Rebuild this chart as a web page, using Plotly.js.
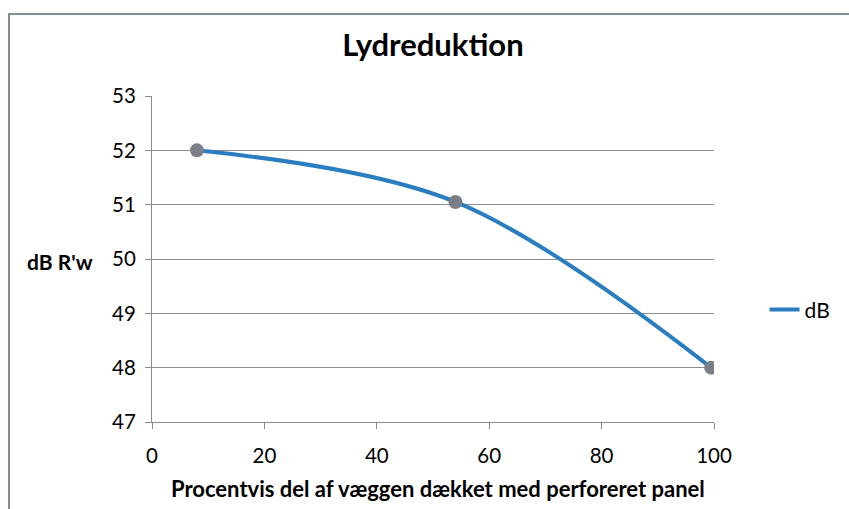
<!DOCTYPE html>
<html>
<head>
<meta charset="utf-8">
<script src="https://cdn.plot.ly/plotly-3.0.1.min.js"></script>
<style>html,body{margin:0;padding:0;background:#fff;}#chart{width:849px;height:509px;}</style>
</head>
<body>
<div id="chart"></div>
<script>
const seriesName = "dB";
const xValues = [8, 54, 99.5];
const yValues = [52, 51.05, 48];
const xTicks = [0, 20, 40, 60, 80, 100];
const yTicks = [47, 48, 49, 50, 51, 52, 53];
const titleText = "Lydreduktion";
const xTitle = "Procentvis del af væggen dækket med perforeret panel";
const yTitle = "dB R'w";

const FONT = "Lato, Noto Sans, sans-serif";
const LINE_COLOR = "#2A7DC0";

const trace = {
  x: xValues, y: yValues, name: seriesName, type: "scatter", mode: "lines+markers",
  line: {color: LINE_COLOR, width: 4, shape: "spline", smoothing: 1},
  marker: {color: "#7A7F87", size: 14, line: {width: 0}},
  showlegend: false, hoverinfo: "skip"
};
// legend entry shows the line only (no marker), like the reference
const legendTrace = {
  x: [null], y: [null], name: seriesName, type: "scatter", mode: "lines",
  line: {color: LINE_COLOR, width: 4}, showlegend: true, hoverinfo: "skip"
};

const layout = {
  width: 849, height: 509,
  margin: {l: 152, r: 135, t: 96, b: 87},
  paper_bgcolor: "#ffffff", plot_bgcolor: "#ffffff",
  font: {family: FONT, color: "#000000", size: 20},
  title: {text: "<b>" + titleText + "</b>", font: {family: FONT, size: 31, color: "#000"}, x: 0.51, xanchor: "center", y: 0.912, yanchor: "middle"},
  showlegend: true,
  legend: {x: 1.09, xanchor: "left", y: 0.344, yanchor: "middle", font: {size: 21, family: FONT}, bgcolor: "rgba(0,0,0,0)", itemwidth: 30, tracegroupgap: 0},
  xaxis: {
    range: [0, 100], tickvals: xTicks, ticktext: xTicks.map(String),
    showgrid: false, zeroline: false, showline: true, linecolor: "#8C8C8C", linewidth: 1,
    ticks: "outside", ticklen: 6, tickcolor: "#8C8C8C", tickfont: {size: 20.5, color: "#000"},
    ticklabelstandoff: 9,
    fixedrange: true
  },
  yaxis: {
    range: [47, 53], tickvals: yTicks, ticktext: yTicks.map(String),
    showgrid: true, gridcolor: "#8C8C8C", gridwidth: 1, zeroline: false,
    showline: true, linecolor: "#8C8C8C", linewidth: 1,
    ticks: "outside", ticklen: 6, tickcolor: "#8C8C8C", tickfont: {size: 20.5, color: "#000"},
    ticklabelstandoff: 5,
    fixedrange: true
  },
  annotations: [{
    text: "<b>" + yTitle + "</b>", xref: "paper", yref: "paper", x: (95 - 152) / 562, xanchor: "right", y: (422 - 261) / 326, yanchor: "middle",
    showarrow: false, font: {size: 21, color: "#000", family: FONT}
  }, {
    text: "<b>" + xTitle + "</b>", xref: "paper", yref: "paper", x: (438 - 152) / 562, xanchor: "center", y: (422 - 488) / 326, yanchor: "middle",
    showarrow: false, font: {size: 22, color: "#000", family: FONT}
  }],
  shapes: [{
    type: "rect", xref: "paper", yref: "paper",
    x0: (9 - 152) / 562, x1: 1.4, y0: -0.5, y1: (422 - 14) / 326,
    line: {color: "#5B6A78", width: 1.5}, fillcolor: "rgba(0,0,0,0)", layer: "below"
  }]
};

Plotly.newPlot("chart", [trace, legendTrace], layout, {displayModeBar: false, staticPlot: true});
</script>
</body>
</html>
